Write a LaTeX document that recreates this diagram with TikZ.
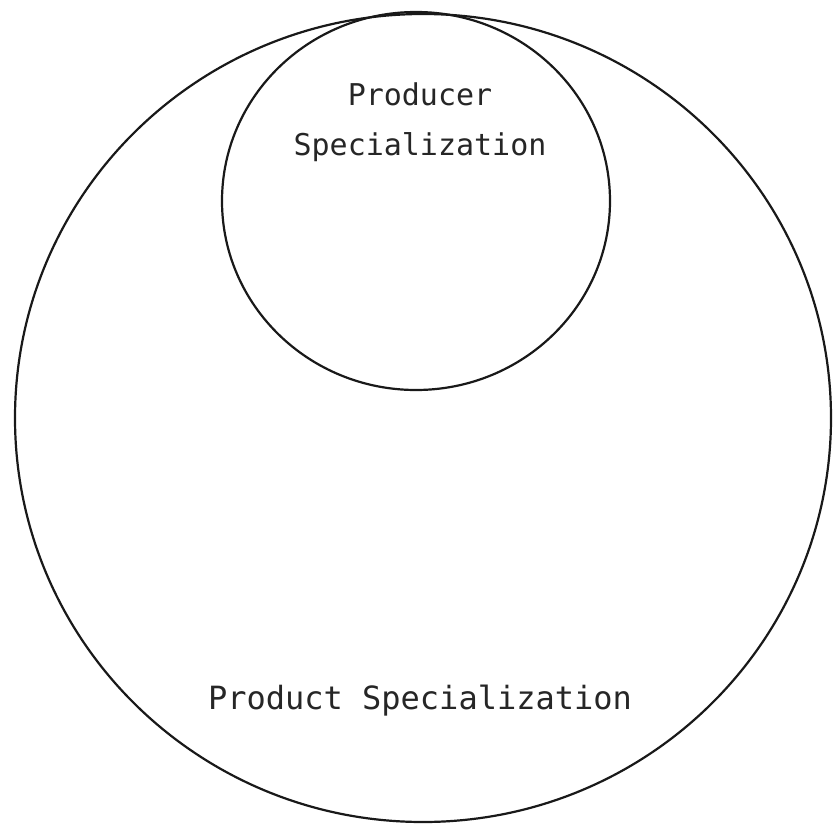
\documentclass[tikz,border=0pt]{standalone}
\usepackage{fontspec}
\setmonofont{DejaVu Sans Mono}
\begin{document}
\begin{tikzpicture}[x=1pt,y=-1pt,
  ring/.style={draw=black!90, line width=2.2pt},
  lbl/.style={font=\ttfamily, text=black!85, inner sep=0pt, align=center}]
\useasboundingbox[fill=white] (0,0) rectangle (833,825);
\draw[ring] (423,418) ellipse [x radius=408, y radius=404];
\draw[ring] (416,201) ellipse [x radius=194, y radius=189];
\node[lbl, font=\fontsize{30}{50}\ttfamily] (producer) at (420,122) {Producer\\Specialization};
\node[lbl, font=\fontsize{32}{38}\ttfamily] (product) at (420,701) {Product Specialization};
\end{tikzpicture}
\end{document}
